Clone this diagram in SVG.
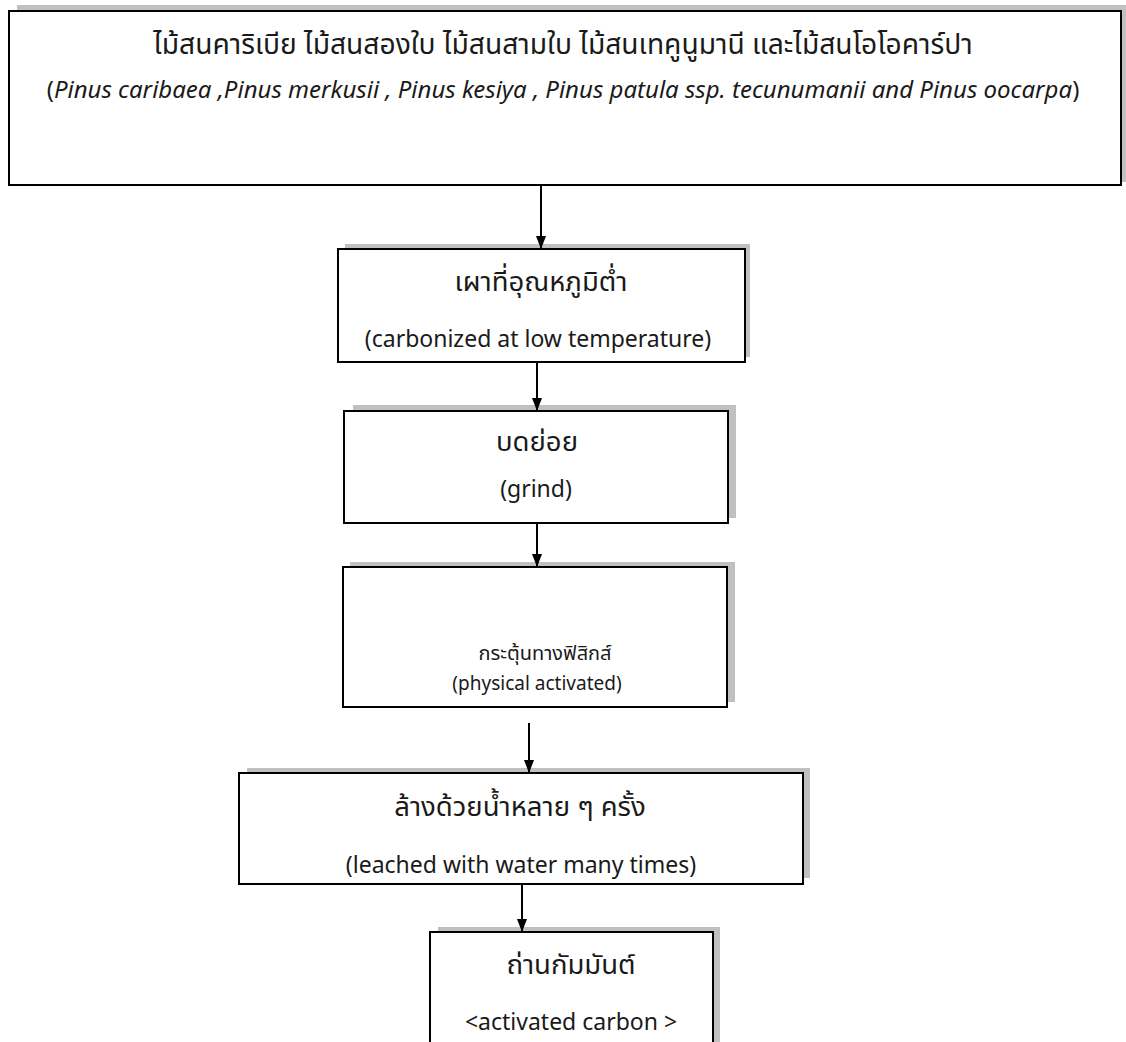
<svg xmlns="http://www.w3.org/2000/svg" width="1126" height="1042" viewBox="0 0 1126 1042">
<style>
.shadow{fill:#c0c0c0;stroke:none}
.box{fill:#ffffff;stroke:#000000;stroke-width:2}
.t{font-family:"Noto Sans","Noto Sans Thai","Liberation Sans",sans-serif;fill:#1a1a1a;text-anchor:middle}
.lg{font-size:23px}
.th{font-size:27.5px}
.thl{font-size:28.2px}
.it{font-size:24px}
.sm{font-size:19px}
.thsm{font-size:20px}
.conn{stroke:#000000;stroke-width:2;fill:none}
</style>
<defs>
<marker id="ah" viewBox="0 0 13 10" refX="13" refY="5" markerWidth="13" markerHeight="10" markerUnits="userSpaceOnUse" orient="auto">
<path d="M0,0 L13,5 L0,10 Z" fill="#000000"/>
</marker>
</defs>
<rect width="1126" height="1042" fill="#ffffff"/>
<g id="node1">
<rect class="shadow" x="17" y="5" width="1110" height="177"/>
<rect class="box" x="9" y="11" width="1112" height="174"/>
<text class="t thl" x="563" y="54">ไม้สนคาริเบีย ไม้สนสองใบ ไม้สนสามใบ ไม้สนเทคูนูมานี และไม้สนโอโอคาร์ปา</text>
<text class="t it" x="563" y="98">(<tspan font-style="italic">Pinus caribaea ,Pinus merkusii , Pinus kesiya , Pinus patula ssp. tecunumanii and Pinus oocarpa</tspan>)</text>
</g>
<g id="node2">
<rect class="shadow" x="345" y="244" width="405" height="113"/>
<rect class="box" x="338" y="249" width="407" height="113"/>
<text class="t th" x="541" y="291">เผาที่อุณหภูมิต่ำ</text>
<text class="t lg" x="538" y="347">(carbonized at low temperature)</text>
</g>
<g id="node3">
<rect class="shadow" x="353" y="405" width="383" height="113"/>
<rect class="box" x="344" y="411" width="384" height="112"/>
<text class="t th" x="537" y="451">บดย่อย</text>
<text class="t lg" x="536" y="497">(grind)</text>
</g>
<g id="node4">
<rect class="shadow" x="350" y="562" width="385" height="140"/>
<rect class="box" x="343" y="567" width="384" height="140"/>
<text class="t thsm" x="545" y="660">กระตุ้นทางฟิสิกส์</text>
<text class="t sm" x="537" y="690">(physical activated)</text>
</g>
<g id="node5">
<rect class="shadow" x="247" y="768" width="563" height="110"/>
<rect class="box" x="239" y="773" width="564" height="111"/>
<text class="t th" x="520" y="816">ล้างด้วยน้ำหลาย ๆ ครั้ง</text>
<text class="t lg" x="521" y="873">(leached with water many times)</text>
</g>
<g id="node6">
<rect class="shadow" x="438" y="927" width="282" height="130"/>
<rect class="box" x="430" y="932" width="283" height="130"/>
<text class="t th" x="571" y="974">ถ่านกัมมันต์</text>
<text class="t lg" x="571" y="1030">&lt;activated carbon &gt;</text>
</g>
<g id="connectors">
<line class="conn" x1="541" y1="185" x2="541" y2="249" stroke-width="2.5" marker-end="url(#ah)"/>
<line class="conn" x1="537" y1="362" x2="537" y2="411" marker-end="url(#ah)"/>
<line class="conn" x1="537" y1="523" x2="537" y2="567" marker-end="url(#ah)"/>
<line class="conn" x1="529" y1="723" x2="529" y2="773" marker-end="url(#ah)"/>
<line class="conn" x1="522" y1="884" x2="522" y2="932" marker-end="url(#ah)"/>
</g>
</svg>
